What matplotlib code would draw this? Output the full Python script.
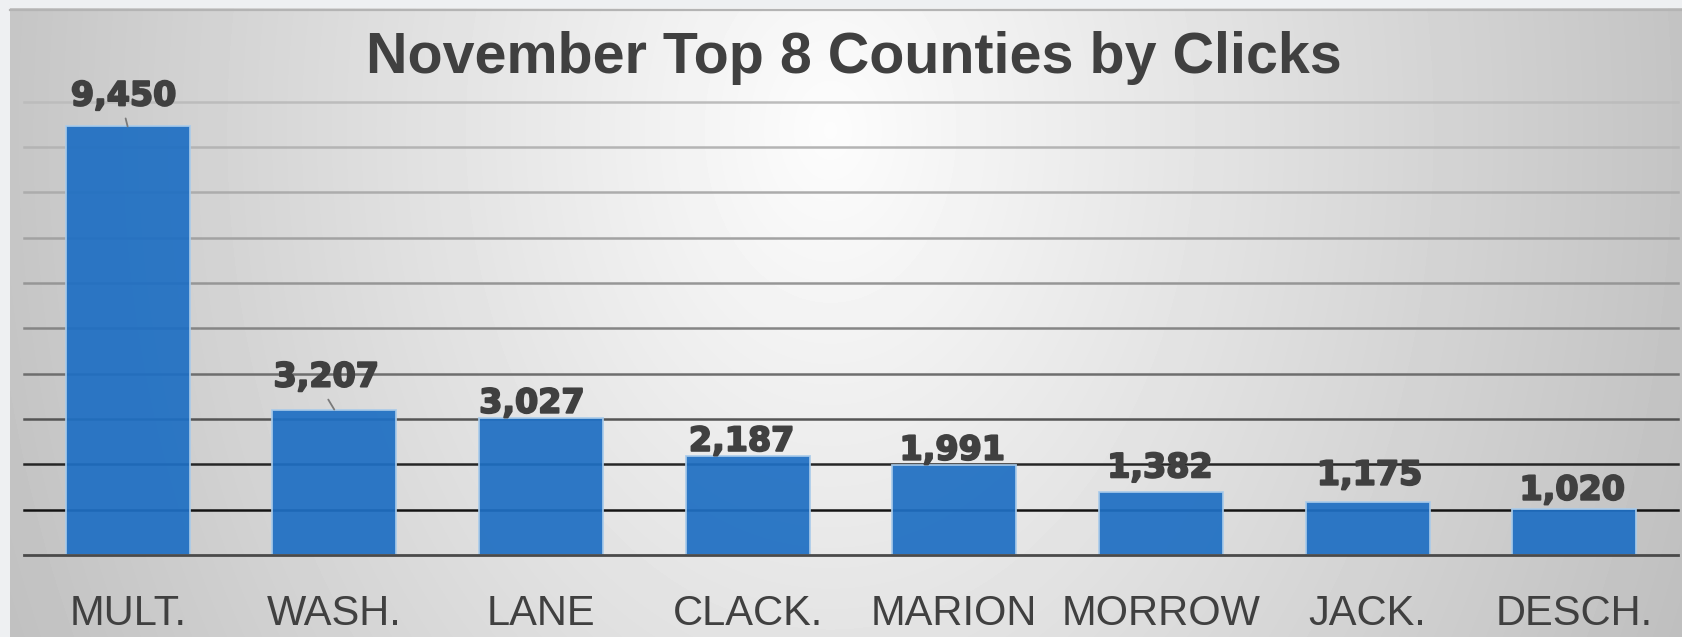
import numpy as np
import matplotlib
matplotlib.use("Agg")
from matplotlib import pyplot as plt
from matplotlib import patheffects

# chart data
counties = ["MULT.", "WASH.", "LANE", "CLACK.", "MARION", "MORROW", "JACK.", "DESCH."]
clicks = [9450, 3207, 3027, 2187, 1991, 1382, 1175, 1020]
title = "November Top 8 Counties by Clicks"

# label nudges in pixels (the original labels were dragged around a bit)
labelDx = [-4, -8, -9, -6, -2, -1, 2, -2]
labelDy = [21, 23, 5, 5, 5, 15, 17, 9]
# leader lines for the labels that were moved away from their bar
leaderStart = {0: (-2, 8), 1: (-6, 10)}

W, H = 1682, 637
fig = plt.figure(figsize=(W / 100, H / 100), dpi=100)
fig.patch.set_facecolor("#eef0f2")

# radial gradient background of the chart area
bgAx = fig.add_axes([10 / W, 0, 1 - 10 / W, 1 - 8 / H])
yy, xx = np.mgrid[8:H, 10:W]
d = np.sqrt(((xx - 830) / 840.0) ** 2 + ((yy - 130) / 1150.0) ** 2)
shade = np.clip(0.99 - 0.22 * d, 0, 1)
bgAx.imshow(shade, cmap="gray", vmin=0, vmax=1, aspect="auto",
            extent=[0, 1, 0, 1], interpolation="bilinear")
bgAx.plot([0, 1], [0.997, 0.997], color="#b4b4b4", lw=1.6,
          transform=bgAx.transAxes, clip_on=False)
bgAx.set_xlim(0, 1)
bgAx.set_ylim(0, 1)
bgAx.axis("off")

ax = fig.add_axes([24.3 / W, 82 / H, (1677.5 - 24.3) / W, (555 - 101.5) / H])
ax.patch.set_alpha(0)
x = np.arange(len(counties))
ax.set_xlim(-0.5, len(counties) - 0.5)
ax.set_ylim(0, 10000)
ax.set_yticks(np.arange(1000, 10001, 1000))

# grid lines get darker toward the bottom
gridColors = ["#141414", "#262626", "#555555", "#6e6e6e", "#858585",
              "#969696", "#a2a2a2", "#acacac", "#b4b4b4", "#bcbcbc"]
for yv, c in zip(ax.get_yticks(), gridColors):
    ax.axhline(yv, color=c, lw=1.8, zorder=1, clip_on=False)

bars = ax.bar(x, clicks, width=0.6, color="#1f6fc3", alpha=0.93,
              edgecolor="#a9cbea", linewidth=1.3, zorder=2)
ax.axhline(0, color="#4a4a4a", lw=2.0, zorder=3, clip_on=False)

heavy = [patheffects.withStroke(linewidth=1.4, foreground="#404040")]
for i, v in enumerate(clicks):
    ax.annotate(f"{v:,}", xy=(i, v), xytext=(labelDx[i], labelDy[i]),
                textcoords="offset pixels", ha="center", va="baseline",
                fontsize=24, fontweight="bold", family="DejaVu Sans",
                color="#404040", zorder=4, path_effects=heavy)
    if i in leaderStart:
        ax.annotate("", xy=(i, v), xytext=leaderStart[i],
                    textcoords="offset pixels",
                    arrowprops=dict(arrowstyle="-", color="#7a7a7a", lw=1.3,
                                    shrinkA=0, shrinkB=0), zorder=4)

ax.set_xticks(x)
ax.set_xticklabels(counties, fontsize=30, family="Liberation Sans",
                   color="#404040")
ax.tick_params(axis="x", length=0, pad=28)
ax.tick_params(axis="y", length=0, labelleft=False)
for s in ax.spines.values():
    s.set_visible(False)

fig.text(853.5 / W, 1 - 72.7 / H, title, ha="center", va="baseline",
         fontsize=41.3, fontweight="bold", family="Liberation Sans",
         color="#404040")

fig.savefig("out.png", dpi=100, facecolor=fig.get_facecolor())
